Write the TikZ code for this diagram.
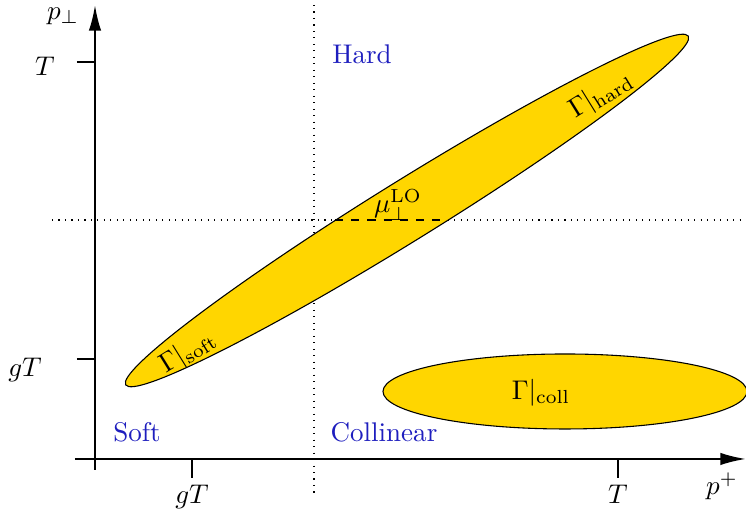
\documentclass[tikz,border=0pt]{standalone}
\usetikzlibrary{arrows.meta}
\definecolor{gold}{RGB}{255,214,0}
\definecolor{regblue}{RGB}{30,30,190}
\begin{document}
\begin{tikzpicture}[x=0.37pt,y=0.37pt,
  axis/.style={line width=0.8pt,-{Latex[length=9.5pt,width=4.6pt]}},
  tick/.style={line width=0.8pt},
  region/.style={draw=black,line width=0.4pt,fill=gold},
  reglabel/.style={text=regblue,inner sep=0pt},
  lbl/.style={inner sep=0pt}]
\useasboundingbox (0,0) rectangle (746,516);
% dotted guides
\draw[dotted] (314,511) -- (314,19);
\draw[dotted] (52,296) -- (746,296);
% regions
\draw[region,rotate around={31.8:(407,305.5)}] (407,305.5) ellipse [x radius=331, y radius=30];
\draw[region] (565,124.5) ellipse [x radius=182, y radius=37.5];
% dashed mu line
\coordinate (dl) at (335,296);
\coordinate (dr) at (448,296);
\draw[dashed] (dl) -- (dr);
% axes
\coordinate (xo) at (75,57);
\coordinate (xe) at (746,57);
\coordinate (yo) at (95,46);
\coordinate (ye) at (95,511);
\draw[axis] (xo) -- (xe);
\draw[axis] (yo) -- (ye);
% ticks
\draw[tick] (77,454) -- (95,454);
\draw[tick] (77,157) -- (95,157);
\draw[tick] (192,57) -- (192,38);
\draw[tick] (618,57) -- (618,38);
% axis labels
\node[lbl] (py) at (63,500) {$p_\perp$};
\node[lbl] (tT) at (45,450) {$T$};
\node[lbl] (tgT) at (25,146) {$gT$};
\node[lbl] (xgT) at (192,19) {$gT$};
\node[lbl] (xT) at (618,22) {$T$};
\node[lbl] (px) at (722,30) {$p^+$};
% region labels
\node[reglabel] (hard) at (362,462) {Hard};
\node[reglabel] (soft) at (137,84) {Soft};
\node[reglabel] (coll) at (384,84) {Collinear};
% gamma labels
\node[lbl,rotate=31.8] (gh) at (601,421) {$\Gamma|_{\rm hard}$};
\node[lbl,rotate=31.8] (gs) at (188,164) {$\Gamma|_{\rm soft}$};
\node[lbl] (gc) at (541,123) {$\Gamma|_{\rm coll}$};
\node[lbl] (mu) at (398,311) {$\mu_\perp^{\rm LO}$};
\end{tikzpicture}
\end{document}
